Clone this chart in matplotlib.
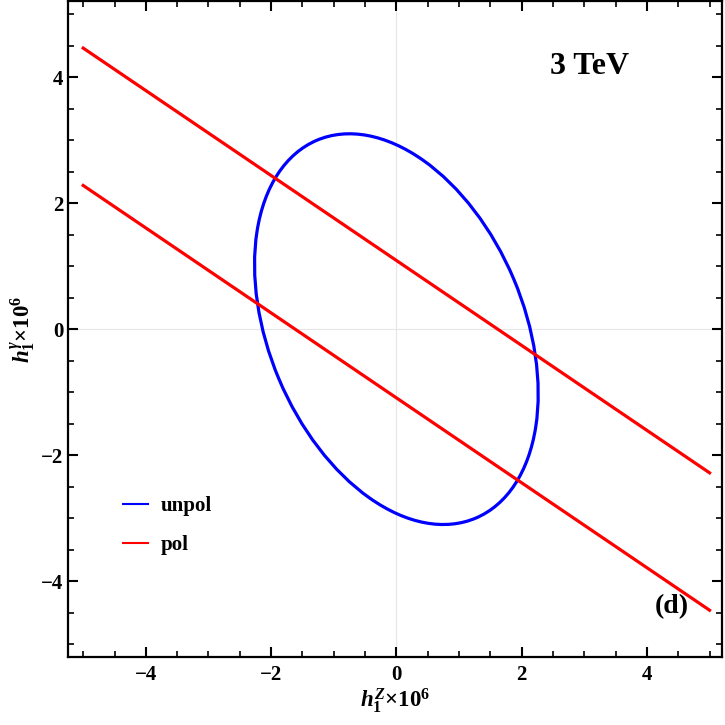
import numpy as np
import matplotlib.pyplot as plt
from matplotlib.patches import Ellipse
from matplotlib.lines import Line2D
from matplotlib.ticker import MultipleLocator

plt.rcParams['font.family'] = 'Liberation Serif'
plt.rcParams['font.weight'] = 'bold'
plt.rcParams['mathtext.fontset'] = 'custom'
plt.rcParams['mathtext.rm'] = 'Liberation Serif:bold'
plt.rcParams['mathtext.it'] = 'Liberation Serif:italic:bold'
plt.rcParams['mathtext.bf'] = 'Liberation Serif:bold'

# unpolarised bound: ellipse (center, full axes, tilt in degrees)
ell_center = (0.0, 0.0)
ell_width = 6.51
ell_height = 4.07
ell_angle = -67.0

# polarised bounds: two parallel straight lines
pol_x = [-5.0, 5.0]
pol_upper = [4.46, -2.28]
pol_lower = [2.28, -4.46]

fig = plt.figure(figsize=(7.25, 7.25), dpi=100)
ax = fig.add_axes([0.094, 0.094, 0.902, 0.904])

ax.axhline(0, color='#e6e6e6', lw=0.8, zorder=0)
ax.axvline(0, color='#e6e6e6', lw=0.8, zorder=0)

ell = Ellipse(ell_center, ell_width, ell_height, angle=ell_angle,
              fill=False, edgecolor='#0000ff', lw=2.3)
ax.add_patch(ell)
ax.plot(pol_x, pol_upper, color='#ff0000', lw=2.3)
ax.plot(pol_x, pol_lower, color='#ff0000', lw=2.3)

ax.set_xlim(-5.24, 5.2)
ax.set_ylim(-5.2, 5.2)

ax.xaxis.set_major_locator(MultipleLocator(2))
ax.yaxis.set_major_locator(MultipleLocator(2))
ax.xaxis.set_minor_locator(MultipleLocator(0.5))
ax.yaxis.set_minor_locator(MultipleLocator(0.5))
ax.tick_params(which='both', direction='in', top=True, right=True)
ax.tick_params(which='major', length=7, width=1.5, labelsize=15)
ax.tick_params(axis='x', which='major', pad=6)
ax.tick_params(which='minor', length=4, width=1.2)
for s in ax.spines.values():
    s.set_linewidth(1.6)

ax.set_xlabel(r'$h_1^{Z}{\times}10^6$', fontsize=16.5, labelpad=1)
ax.set_ylabel(r'$h_1^{\gamma}{\times}10^6$', fontsize=16.5, labelpad=2)

ax.text(3.09, 4.16, '3 TeV', fontsize=23, fontweight='bold', ha='center', va='center')
ax.text(4.39, -4.41, '(d)', fontsize=20, fontweight='bold', ha='center', va='center')

handles = [Line2D([], [], color='#0000ff', lw=1.5),
           Line2D([], [], color='#ff0000', lw=1.5)]
ax.legend(handles, ['unpol', 'pol'], loc='lower left', bbox_to_anchor=(0.055, 0.127),
          frameon=False, handlelength=1.2, handletextpad=0.6, labelspacing=0.9,
          prop={'weight': 'bold', 'size': 15})

fig.savefig('out.png', dpi=100)
